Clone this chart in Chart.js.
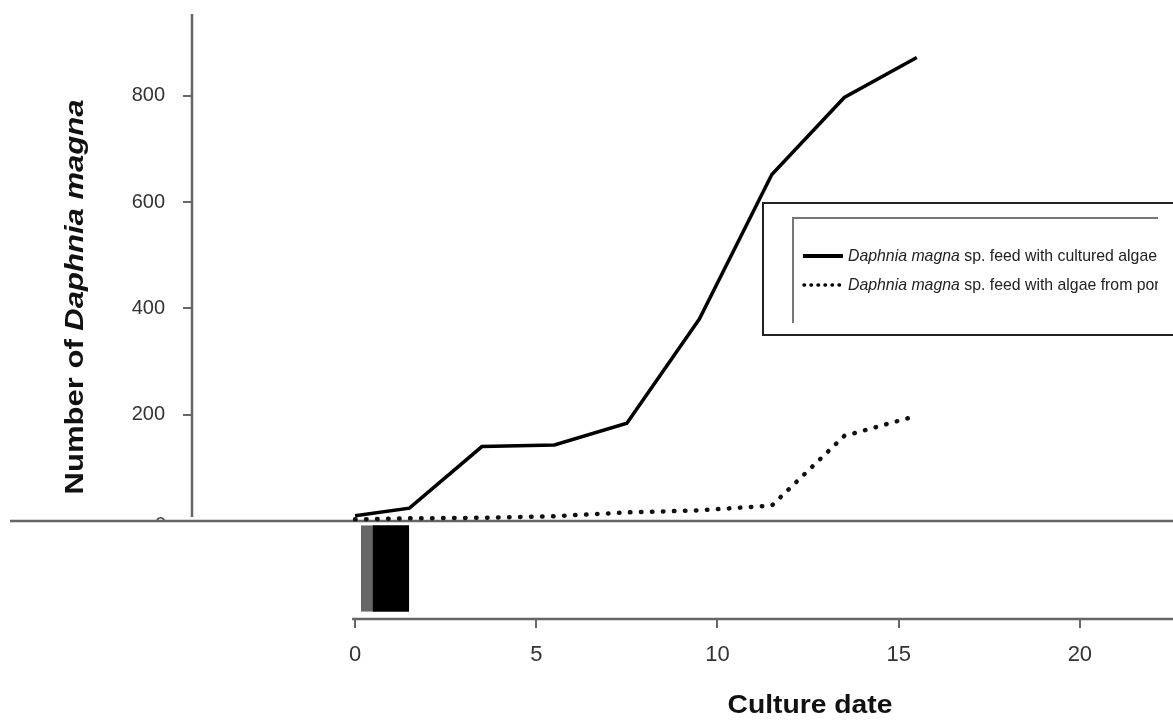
<!DOCTYPE html>
<html><head><meta charset="utf-8">
<script src="https://cdn.jsdelivr.net/npm/chart.js@4.4.0/dist/chart.umd.min.js"></script>
<style>html,body{margin:0;padding:0;background:#fff;}#wrap{width:1173px;height:726px;}</style>
</head><body><div id="wrap"><canvas id="c" width="1173" height="726"></canvas></div>
<script>
// ---- data ----
const cultureDays   = [0, 1.5, 3.5, 5.5, 7.5, 9.5, 11.5, 13.5, 15.5];
const culturedAlgae = [10, 24, 140, 143, 184, 380, 652, 797, 872];
const pondAlgae     = [3, 5, 6, 9, 16, 20, 29, 160, 198];
const xTickValues   = [0, 5, 10, 15, 20];
const yTickValues   = [200, 400, 600, 800];
const seriesNames   = ['Daphnia magna sp. feed with cultured algae', 'Daphnia magna sp. feed with algae from pond'];
const xTitle = 'Culture date';
const yTitle = ['Number of ', 'Daphnia magna'];
// stray dark block visible under the start of the curves in the reference
const blockX = [0.83];
const blockRange = [[-171, -8]];

const FONT = '"Liberation Sans", Arial, Helvetica, sans-serif';

function pts(xs, ys){ return xs.map((x,i)=>({x:x, y:ys[i]})); }

function drawParts(ctx, parts, x, y, targetW, align){
  let total = 0;
  parts.forEach(p=>{ ctx.font = p.font; p.w = ctx.measureText(p.t).width; total += p.w; });
  const s = targetW ? targetW/total : 1;
  ctx.save();
  ctx.translate(x, y);
  ctx.scale(s, 1);
  let cx = align === 'center' ? -total/2 : 0;
  ctx.textBaseline = 'middle';
  ctx.textAlign = 'left';
  parts.forEach(p=>{ ctx.font = p.font; ctx.fillText(p.t, cx, 0); cx += p.w; });
  ctx.restore();
  return s;
}

const decor = {
  id: 'decor',
  beforeDatasetsDraw(chart){
    const ctx = chart.ctx, a = chart.chartArea, xs = chart.scales.x, ys = chart.scales.y;
    ctx.save();
    ctx.strokeStyle = '#666';
    ctx.lineWidth = 2.5;
    // y axis line
    ctx.beginPath();
    ctx.moveTo(a.left, a.top);
    ctx.lineTo(a.left, ys.getPixelForValue(0) - 4);
    ctx.stroke();
    // baseline
    ctx.beginPath();
    ctx.moveTo(10, ys.getPixelForValue(0));
    ctx.lineTo(chart.width, ys.getPixelForValue(0));
    ctx.stroke();
    // x axis line
    ctx.beginPath();
    ctx.moveTo(xs.getPixelForValue(0) - 3, a.bottom);
    ctx.lineTo(a.right, a.bottom);
    ctx.stroke();
    // small "0" peeking above the baseline
    ctx.save();
    ctx.beginPath(); ctx.rect(140, 505, 40, ys.getPixelForValue(0) - 506); ctx.clip();
    ctx.fillStyle = '#444'; ctx.font = '20px ' + FONT; ctx.textAlign = 'right'; ctx.textBaseline = 'middle';
    ctx.fillText('0', 166, ys.getPixelForValue(0) + 5);
    ctx.restore();
    ctx.restore();
  },
  afterDraw(chart){
    const ctx = chart.ctx;
    ctx.save();
    ctx.fillStyle = '#111';
    // x title
    drawParts(ctx, [{t:xTitle, font:'bold 26px '+FONT}], 810, 706, 165, 'center');
    // y title
    ctx.save();
    ctx.translate(76, 297);
    ctx.rotate(-Math.PI/2);
    drawParts(ctx, [{t:yTitle[0], font:'bold 25px '+FONT},{t:yTitle[1], font:'italic bold 25px '+FONT}], 0, 0, 395, 'center');
    ctx.restore();
    // legend box
    ctx.strokeStyle = '#222';
    ctx.lineWidth = 2;
    ctx.strokeRect(763, 203, 430, 132);
    ctx.strokeStyle = '#777';
    ctx.beginPath();
    ctx.moveTo(793, 323); ctx.lineTo(793, 218); ctx.lineTo(1158, 218);
    ctx.stroke();
    // legend samples
    ctx.strokeStyle = '#000';
    ctx.lineWidth = 4;
    ctx.beginPath(); ctx.moveTo(803, 256); ctx.lineTo(843, 256); ctx.stroke();
    ctx.setLineDash([0.5, 6.5]); ctx.lineCap = 'round'; ctx.lineWidth = 3.5;
    ctx.beginPath(); ctx.moveTo(804, 285); ctx.lineTo(844, 285); ctx.stroke();
    ctx.setLineDash([]);
    // legend text
    ctx.fillStyle = '#222';
    const lf = '17px "Liberation Sans Narrow", ' + FONT;
    const lfi = 'italic 17px "Liberation Sans Narrow", ' + FONT;
    const split = n => [{t:'Daphnia magna', font:lfi},{t:n.slice('Daphnia magna'.length), font:lf}];
    const sc = drawParts(ctx, split(seriesNames[0]), 848, 256, 309);
    ctx.save();
    ctx.beginPath(); ctx.rect(840, 270, 318, 30); ctx.clip();
    const p2 = split(seriesNames[1]);
    let tot = 0; p2.forEach(p=>{ctx.font=p.font; tot+=ctx.measureText(p.t).width;});
    drawParts(ctx, p2, 848, 285, tot*sc);
    ctx.restore();
    ctx.restore();
  }
};

new Chart(document.getElementById('c'), {
  type: 'line',
  data: {
    datasets: [
      { label: seriesNames[0], data: pts(cultureDays, culturedAlgae), borderColor:'#000', borderWidth:3.5,
        pointRadius:0, tension:0, fill:false, order:1 },
      { label: seriesNames[1], data: pts(cultureDays, pondAlgae), borderColor:'#111', borderWidth:4.5,
        borderDash:[0.5, 10.5], borderCapStyle:'round', pointRadius:0, tension:0, fill:false, order:2 },
      { type:'bar', label:'block', data: blockX.map((x,i)=>({x:x, y:blockRange[i]})), backgroundColor:'#000',
        borderColor:'#666', borderWidth:{left:12, right:0, top:0, bottom:0}, borderSkipped:false,
        barThickness:48, order:3 }
    ]
  },
  options: {
    responsive:false, animation:false, devicePixelRatio:1,
    layout:{ autoPadding:false, padding:{ top:14, right:0, left:0, bottom:0 } },
    plugins:{ legend:{display:false}, tooltip:{enabled:false} },
    scales:{
      x:{ type:'linear', min:-4.5, max:22.57, offset:false,
        afterFit(s){ s.height = 107; s.paddingLeft = 0; s.paddingRight = 0; s.paddingTop = 0; s.paddingBottom = 0; },
        afterBuildTicks(s){ s.ticks = xTickValues.map(v=>({value:v})); },
        border:{display:false},
        grid:{ offset:false, drawOnChartArea:false, drawTicks:true, tickLength:9, color:'#666', lineWidth:2 },
        ticks:{ font:{family:FONT, size:22}, color:'#333', padding:14, maxRotation:0, autoSkip:false }
      },
      y:{ type:'linear', min:-184.5, max:954,
        afterFit(s){ s.width = 192; s.paddingTop = 0; s.paddingBottom = 0; s.paddingLeft = 0; s.paddingRight = 0; },
        afterBuildTicks(s){ s.ticks = yTickValues.map(v=>({value:v})); },
        border:{display:false},
        grid:{ drawOnChartArea:false, drawTicks:true, tickLength:9, color:'#666', lineWidth:2 },
        ticks:{ font:{family:FONT, size:20}, color:'#333', padding:18 }
      }
    }
  },
  plugins:[decor]
});
</script>
</body></html>
